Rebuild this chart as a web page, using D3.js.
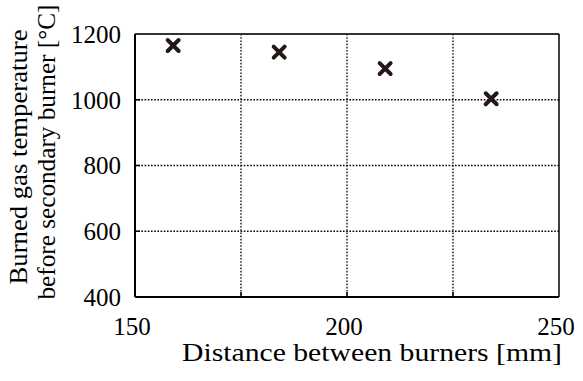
<!DOCTYPE html>
<html><head><meta charset="utf-8">
<script src="https://cdn.jsdelivr.net/npm/d3@7"></script>
<style>body{margin:0;background:#fff}svg{display:block}text{font-family:"Liberation Serif","Times New Roman",serif;fill:#000}</style>
</head><body><svg id="c" width="583" height="381"></svg>
<script>
const distance = [159, 184, 209, 234];
const temperature = [1165, 1145, 1095, 1003];
const xTicks = [150, 200, 250];
const xGrid = [175, 200, 225];
const yTicks = [400, 600, 800, 1000, 1200];
const yGrid = [600, 800, 1000];
const xTitle = "Distance between burners [mm]";
const yTitle1 = "Burned gas temperature";
const yTitle2 = "before secondary burner [\u00B0C]";

const svg = d3.select("#c");
const L = 135, R = 559, T = 34, B = 297;
const x = d3.scaleLinear().domain([150, 250]).range([L, R]);
const y = d3.scaleLinear().domain([400, 1200]).range([B, T]);
const fs = 25;

// grid
svg.append("g").selectAll("line").data(xGrid).join("line")
  .attr("x1", d => x(d)).attr("x2", d => x(d)).attr("y1", T).attr("y2", B)
  .attr("stroke", "#000").attr("stroke-width", 1.3).attr("stroke-dasharray", "1.6,1.6");
svg.append("g").selectAll("line").data(yGrid).join("line")
  .attr("y1", d => y(d)).attr("y2", d => y(d)).attr("x1", L).attr("x2", R)
  .attr("stroke", "#000").attr("stroke-width", 1.3).attr("stroke-dasharray", "1.6,1.6");

// inward ticks
svg.append("g").selectAll("line").data(xGrid).join("line")
  .attr("x1", d => x(d)).attr("x2", d => x(d)).attr("y1", B).attr("y2", B - 5)
  .attr("stroke", "#000").attr("stroke-width", 1.5);
svg.append("g").selectAll("line").data(yGrid).join("line")
  .attr("y1", d => y(d)).attr("y2", d => y(d)).attr("x1", L).attr("x2", L + 5)
  .attr("stroke", "#000").attr("stroke-width", 1.5);

// frame
svg.append("line").attr("x1", L).attr("x2", R).attr("y1", T).attr("y2", T).attr("stroke", "#333").attr("stroke-width", 2);
svg.append("line").attr("x1", R).attr("x2", R).attr("y1", T).attr("y2", B).attr("stroke", "#000").attr("stroke-width", 1.5);
svg.append("line").attr("x1", L).attr("x2", R).attr("y1", B).attr("y2", B).attr("stroke", "#000").attr("stroke-width", 2);
svg.append("line").attr("x1", L).attr("x2", L).attr("y1", T).attr("y2", B).attr("stroke", "#000").attr("stroke-width", 2);

// tick labels
svg.append("g").selectAll("text").data(yTicks).join("text")
  .attr("x", L - 14).attr("y", d => y(d)).attr("dy", "0.35em")
  .attr("text-anchor", "end").attr("font-size", fs).text(d => d);
svg.append("g").selectAll("text").data(xTicks).join("text")
  .attr("x", d => x(d) - 3).attr("y", B + 38)
  .attr("text-anchor", "middle").attr("font-size", fs).text(d => d);

// titles
svg.append("text").attr("x", 372).attr("y", 361).attr("text-anchor", "middle")
  .attr("font-size", 26).attr("textLength", 380).attr("lengthAdjust", "spacingAndGlyphs").text(xTitle);
svg.append("text").attr("transform", "translate(27,157) rotate(-90)").attr("text-anchor", "middle")
  .attr("font-size", 25).attr("textLength", 255).attr("lengthAdjust", "spacingAndGlyphs").text(yTitle1);
svg.append("text").attr("transform", "translate(55,152) rotate(-90)").attr("text-anchor", "middle")
  .attr("font-size", 25).attr("textLength", 295).attr("lengthAdjust", "spacingAndGlyphs").text(yTitle2);

// markers
const sym = d3.symbol().type(d3.symbolTimes).size(80);
svg.append("g").selectAll("path").data(distance).join("path")
  .attr("d", sym)
  .attr("transform", (d, i) => `translate(${x(d)},${y(temperature[i])})`)
  .attr("fill", "none").attr("stroke", "#231815").attr("stroke-width", 4).attr("stroke-linecap", "round");
</script></body></html>
